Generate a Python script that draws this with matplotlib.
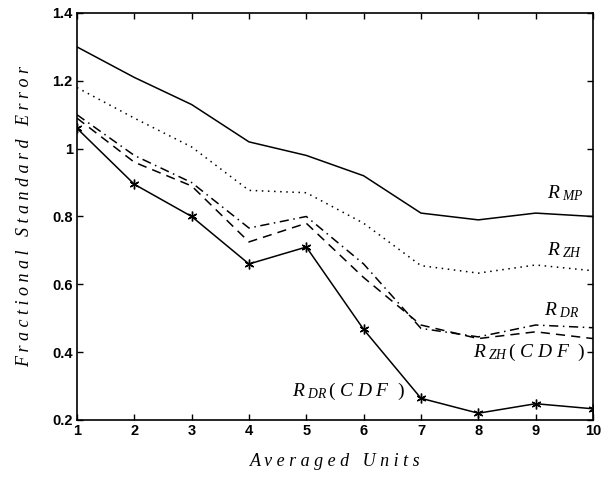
import matplotlib
matplotlib.use("Agg")
import matplotlib.pyplot as plt

units = [1, 2, 3, 4, 5, 6, 7, 8, 9, 10]
r_mp = [1.30, 1.21, 1.13, 1.02, 0.98, 0.92, 0.81, 0.79, 0.81, 0.80]
r_zh = [1.18, 1.09, 1.005, 0.877, 0.87, 0.78, 0.655, 0.633, 0.657, 0.64]
r_dr = [1.10, 0.98, 0.90, 0.766, 0.80, 0.66, 0.47, 0.445, 0.48, 0.472]
r_zh_cdf = [1.09, 0.96, 0.89, 0.725, 0.78, 0.62, 0.48, 0.44, 0.46, 0.44]
r_dr_cdf = [1.06, 0.895, 0.80, 0.66, 0.71, 0.467, 0.264, 0.22, 0.248, 0.233]

yticks = [0.2, 0.4, 0.6, 0.8, 1.0, 1.2, 1.4]
ytick_labels = ["0.2", "0.4", "0.6", "0.8", "1", "1.2", "1.4"]

plt.rcParams['mathtext.fontset'] = 'custom'
plt.rcParams['mathtext.it'] = 'Liberation Serif:italic'
plt.rcParams['mathtext.rm'] = 'Liberation Serif'

fig = plt.figure(figsize=(6.08, 4.79), dpi=100)
ax = fig.add_axes([0.1266, 0.1232, 0.8487, 0.8497])

lw = 1.1
ax.plot(units, r_mp, color='black', lw=lw, linestyle='-')
ax.plot(units, r_zh, color='black', lw=lw, linestyle=(0, (1, 3)))
ax.plot(units, r_dr, color='black', lw=lw, linestyle=(0, (6, 3, 1, 3)))
ax.plot(units, r_zh_cdf, color='black', lw=lw, linestyle=(0, (6, 4)))
ax.plot(units, r_dr_cdf, color='black', lw=lw, linestyle='-', marker=(6, 2, 0), markersize=7, mew=1.0)

ax.set_xlim(1, 10)
ax.set_ylim(0.2, 1.4)
ax.set_xticks(units)
ax.set_xticklabels([str(u) for u in units], fontfamily='Liberation Sans', fontweight='bold', fontsize=10.5)
ax.set_yticks(yticks)
ax.set_yticklabels(ytick_labels, fontfamily='Liberation Sans', fontweight='bold', fontsize=10.5)
ax.tick_params(direction='in', length=4, top=True, right=True, width=1, pad=3)
for s in ax.spines.values():
    s.set_linewidth(1.2)

ax.text(9.2, 0.855, r'$R_{\ MP}$', fontsize=14)
ax.text(9.2, 0.685, r'$R_{\ ZH}$', fontsize=14)
ax.text(9.15, 0.51, r'$R_{\ DR}$', fontsize=14)
ax.text(7.9, 0.385, r'$R_{\ ZH}\,(\ C\ D\ F\ \ )$', fontsize=14)
ax.text(4.75, 0.27, r'$R_{\ DR}\,(\ C\ D\ F\ \ )$', fontsize=14)

ax.set_xlabel('A v e r a g e d   U n i t s', fontfamily='Liberation Serif', fontstyle='italic', fontsize=13, labelpad=11)
ax.set_ylabel('F r a c t i o n a l   S t a n d a r d   E r r o r', fontfamily='Liberation Serif', fontstyle='italic', fontsize=13, labelpad=14)

fig.savefig('out.png', dpi=100)
